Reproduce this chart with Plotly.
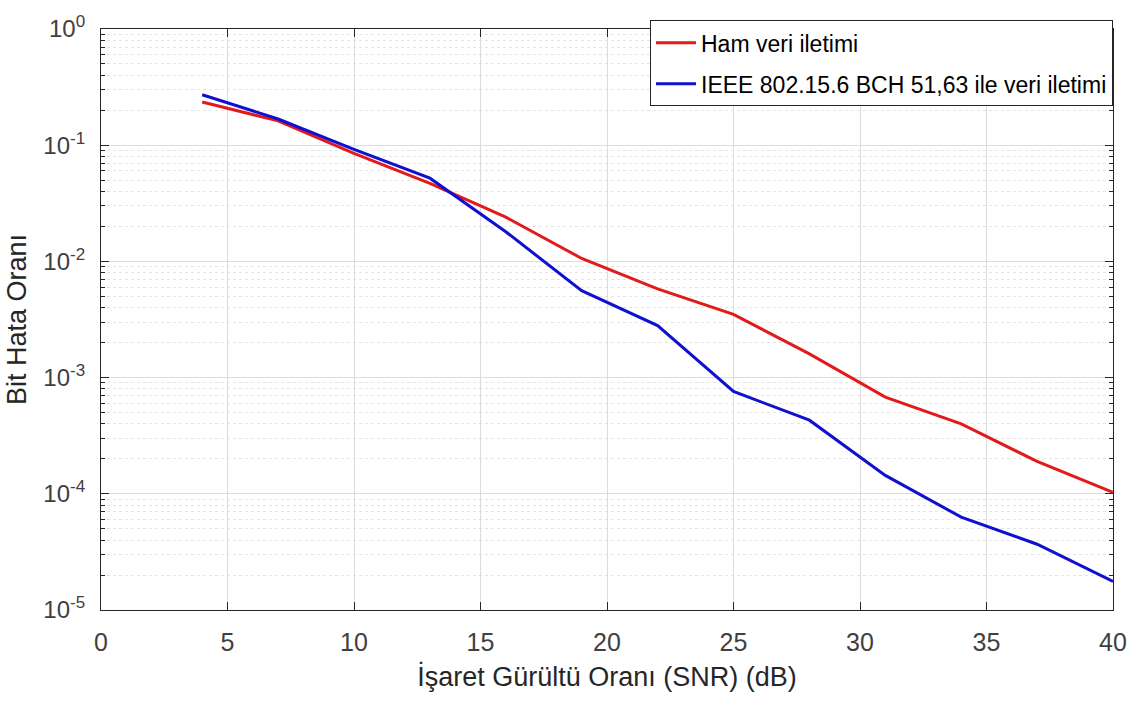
import plotly.graph_objects as go

snr = [4, 7, 10, 13, 16, 19, 22, 25, 28, 31, 34, 37, 40]
ber_raw = [0.235, 0.162, 0.085, 0.047, 0.024, 0.0106, 0.0058, 0.0035, 0.0016, 0.00068, 0.0004, 0.00019, 0.000103]
ber_bch = [0.272, 0.168, 0.092, 0.052, 0.018, 0.0056, 0.0028, 0.00076, 0.00043, 0.000144, 0.000063, 0.0000368, 0.0000176]

name_raw = "Ham veri iletimi"
name_bch = "IEEE 802.15.6 BCH 51,63 ile veri iletimi"

x_ticks = [0, 5, 10, 15, 20, 25, 30, 35, 40]
y_ticks = [1e-5, 1e-4, 1e-3, 1e-2, 1e-1, 1e0]
y_exponents = ["-5", "-4", "-3", "-2", "-1", "0"]
y_ticktext = ["10<sup><span style='font-size:17px'>%s</span></sup>" % e for e in y_exponents]
minor_vals = [m * 10 ** e for e in range(-5, 0) for m in range(2, 10)]

fig = go.Figure()
fig.add_trace(go.Scatter(x=snr, y=ber_raw, mode="lines", name=name_raw, legendgroup="a",
                         line=dict(color="#e31a1c", width=3)))
fig.add_trace(go.Scatter(x=snr, y=ber_bch, mode="lines", name=name_bch, legendgroup="b",
                         line=dict(color="#1010d0", width=3)))

font_family = "Liberation Sans, Arial, sans-serif"
fig.update_layout(
    width=1141, height=702,
    margin=dict(l=101, r=28, t=18, b=92),
    paper_bgcolor="white", plot_bgcolor="white",
    font=dict(family=font_family, color="#262626", size=23),
    showlegend=True,
    legend=dict(x=1.0, y=1.015, xanchor="right", yanchor="top",
                bordercolor="#262626", borderwidth=1, bgcolor="white",
                font=dict(size=23, color="#000000"), itemwidth=40,
                tracegroupgap=8),
)
fig.update_xaxes(
    range=[0, 40], tickvals=x_ticks, ticks="inside", ticklen=8,
    tickcolor="#262626", showline=True, linecolor="#262626", linewidth=1,
    mirror="ticks", showgrid=True, gridcolor="#dcdcdc", gridwidth=1,
    zeroline=False, tickfont=dict(size=25, color="#404040"),
    ticklabelstandoff=10,
    title=dict(text="İşaret Gürültü Oranı (SNR) (dB)", font=dict(size=27, color="#262626"), standoff=12),
)
fig.update_yaxes(
    type="log", range=[-5, 0], tickvals=y_ticks, ticktext=y_ticktext,
    ticks="inside", ticklen=8, tickcolor="#262626",
    showline=True, linecolor="#262626", linewidth=1, mirror="ticks",
    showgrid=True, gridcolor="#dcdcdc", gridwidth=1, zeroline=False,
    tickfont=dict(size=24, color="#404040"),
    ticklabelstandoff=10,
    minor=dict(tickvals=minor_vals, ticks="inside", ticklen=4, tickcolor="#262626",
               showgrid=True, gridcolor="#e4e4e4", griddash="dot", gridwidth=1),
    title=dict(text="Bit Hata Oranı", font=dict(size=27, color="#262626"), standoff=8),
)

fig.write_html("out.html")
